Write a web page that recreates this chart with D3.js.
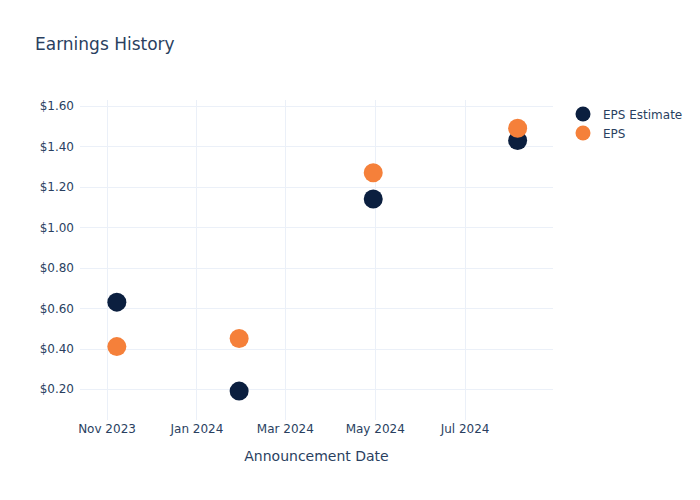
<!DOCTYPE html>
<html>
<head>
<meta charset="utf-8">
<script src="https://cdn.jsdelivr.net/npm/d3@7"></script>
<style>
  html, body { margin: 0; padding: 0; background: #fff; }
  svg { display: block; }
  text { font-family: "DejaVu Sans", Verdana, sans-serif; fill: #2a3f5f; }
</style>
</head>
<body>
<svg id="chart" width="700" height="500"></svg>
<script>
// ---- data ----
const dates = ["2023-11-08", "2024-01-30", "2024-04-30", "2024-08-06"];
const epsEstimate = [0.63, 0.19, 1.14, 1.43];
const epsActual = [0.41, 0.45, 1.27, 1.49];
const seriesNames = ["EPS Estimate", "EPS"];
const seriesColors = ["#0b1f3f", "#f5803a"];
const xTickDates = ["2023-11-01", "2024-01-01", "2024-03-01", "2024-05-01", "2024-07-01"];
const yTickValues = [0.2, 0.4, 0.6, 0.8, 1.0, 1.2, 1.4, 1.6];
const titleText = "Earnings History";
const xAxisTitle = "Announcement Date";

// ---- layout ----
const svg = d3.select("#chart");
const W = 700, H = 500;
const m = { l: 80, r: 147, t: 100, b: 80 };
const pw = W - m.l - m.r, ph = H - m.t - m.b;
const parse = d3.utcParse("%Y-%m-%d");

const x = d3.scaleUtc()
  .domain([parse("2023-10-14"), parse("2024-08-30")])
  .range([m.l, m.l + pw]);
const y = d3.scaleLinear()
  .domain([0.047, 1.63])
  .range([m.t + ph, m.t]);

svg.append("rect").attr("width", W).attr("height", H).attr("fill", "#fff");

// grid
const g = svg.append("g");
g.selectAll(".gx").data(xTickDates).enter().append("line")
  .attr("x1", d => Math.round(x(parse(d))) + 0.5).attr("x2", d => Math.round(x(parse(d))) + 0.5)
  .attr("y1", m.t).attr("y2", m.t + ph)
  .attr("stroke", "#ebf0f8").attr("stroke-width", 1);
g.selectAll(".gy").data(yTickValues).enter().append("line")
  .attr("y1", d => Math.round(y(d)) + 0.5).attr("y2", d => Math.round(y(d)) + 0.5)
  .attr("x1", m.l).attr("x2", m.l + pw)
  .attr("stroke", "#ebf0f8").attr("stroke-width", 1);

// axes
const xAxis = d3.axisBottom(x)
  .tickValues(xTickDates.map(parse))
  .tickFormat(d3.utcFormat("%b %Y"))
  .tickSize(0).tickPadding(4);
const xg = svg.append("g").attr("transform", `translate(0,${m.t + ph})`).call(xAxis);
xg.select(".domain").remove();
xg.selectAll("text").attr("font-size", 12).attr("fill", "#2a3f5f")
  .attr("font-family", "DejaVu Sans, Verdana, sans-serif");

const yAxis = d3.axisLeft(y)
  .tickValues(yTickValues)
  .tickFormat(d => "$" + d3.format(".2f")(d))
  .tickSize(0).tickPadding(5);
const yg = svg.append("g").attr("transform", `translate(${m.l - 1},0)`).call(yAxis);
yg.select(".domain").remove();
yg.selectAll("text").attr("font-size", 12).attr("fill", "#2a3f5f")
  .attr("font-family", "DejaVu Sans, Verdana, sans-serif");

// axis title
svg.append("text")
  .attr("x", m.l + pw / 2).attr("y", 461)
  .attr("text-anchor", "middle").attr("font-size", 14)
  .text(xAxisTitle);

// title
svg.append("text")
  .attr("x", 35).attr("y", 50)
  .attr("font-size", 17)
  .text(titleText);

// points
const series = [epsEstimate, epsActual];
series.forEach((vals, si) => {
  svg.append("g").selectAll("circle")
    .data(vals.map((v, i) => ({ d: parse(dates[i]), v })))
    .enter().append("circle")
    .attr("cx", d => x(d.d))
    .attr("cy", d => y(d.v))
    .attr("r", 9.5)
    .attr("fill", seriesColors[si]);
});

// legend
const lg = svg.append("g");
seriesNames.forEach((name, i) => {
  const cy = 114 + i * 19;
  lg.append("circle").attr("cx", 583).attr("cy", cy).attr("r", 7.5).attr("fill", seriesColors[i]);
  lg.append("text").attr("x", 603).attr("y", cy + 4.5).attr("font-size", 12).text(name);
});
</script>
</body>
</html>
